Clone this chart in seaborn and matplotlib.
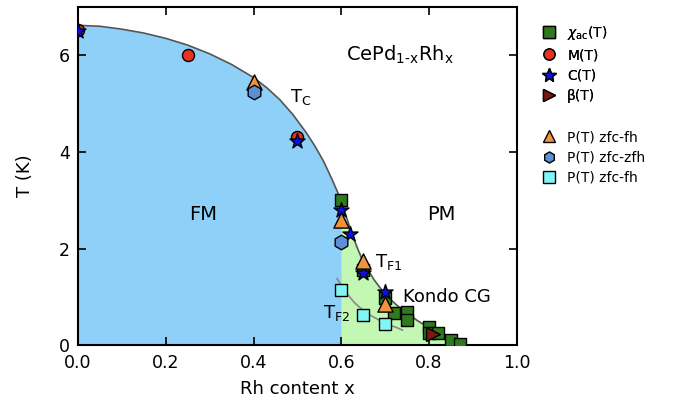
import numpy as np
import pandas as pd
import matplotlib
matplotlib.use("Agg")
import matplotlib.pyplot as plt
import seaborn as sns
from matplotlib.lines import Line2D

# ---- data ----
chi_x = [0.60, 0.65, 0.70, 0.72, 0.75, 0.75, 0.80, 0.80, 0.82, 0.85, 0.87]
chi_T = [3.00, 1.55, 0.97, 0.67, 0.69, 0.52, 0.38, 0.25, 0.26, 0.10, 0.03]
m_x = [0.0, 0.25, 0.50]
m_T = [6.52, 6.00, 4.31]
c_x = [0.0, 0.50, 0.60, 0.62, 0.65, 0.70]
c_T = [6.50, 4.22, 2.80, 2.31, 1.49, 1.10]
beta_x = [0.81]
beta_T = [0.23]
pfh_x = [0.40, 0.60, 0.65, 0.70]
pfh_T = [5.45, 2.59, 1.74, 0.86]
pzfh_x = [0.40, 0.60]
pzfh_T = [5.24, 2.14]
pfh2_x = [0.60, 0.65, 0.70]
pfh2_T = [1.14, 0.62, 0.43]

# phase boundary (Tc / TF1) and TF2 guide lines
tc_x = [0.00, 0.05, 0.10, 0.15, 0.20, 0.25, 0.30, 0.35, 0.40, 0.43, 0.46, 0.49,
        0.52, 0.54, 0.56, 0.58, 0.59, 0.60, 0.61, 0.62, 0.635, 0.65, 0.675,
        0.70, 0.725, 0.75, 0.775, 0.80, 0.825, 0.85, 0.865, 0.88]
tc_T = [6.62, 6.60, 6.54, 6.46, 6.35, 6.21, 6.03, 5.81, 5.54, 5.33, 5.08, 4.77,
        4.40, 4.12, 3.80, 3.41, 3.20, 2.98, 2.70, 2.42, 2.05, 1.72, 1.35,
        1.05, 0.84, 0.66, 0.50, 0.36, 0.23, 0.12, 0.06, 0.00]
tf2_x = [0.59, 0.61, 0.63, 0.65, 0.67, 0.69, 0.71, 0.73, 0.74]
tf2_T = [1.38, 1.10, 0.88, 0.72, 0.60, 0.50, 0.42, 0.35, 0.31]

sns.set_style("ticks")
plt.rcParams["font.family"] = ["DejaVu Sans"]
plt.rcParams["mathtext.fontset"] = "dejavusans"
for k in ["text.color", "axes.labelcolor", "xtick.color", "ytick.color",
          "axes.edgecolor"]:
    plt.rcParams[k] = "black"

fig = plt.figure(figsize=(6.75, 4.09), dpi=100)
ax = fig.add_axes([0.1156, 0.156, 0.650, 0.827])

tcx = np.array(tc_x)
tcT = np.array(tc_T)
fm = tcx <= 0.6
ax.fill_between(tcx[fm], 0, tcT[fm], color="#8ed0f8", lw=0, zorder=0)
cg = tcx >= 0.6
ax.fill_between(tcx[cg], 0, tcT[cg], color="#c2f7b4", lw=0, zorder=0)

sns.lineplot(x=tc_x, y=tc_T, ax=ax, color="#555555", lw=1.2, zorder=1, sort=False)
sns.lineplot(x=tf2_x, y=tf2_T, ax=ax, color="#8a8a8a", lw=1.2, zorder=1, sort=False)

ms = 75
ec = "black"
series = [
    (chi_x, chi_T, "s", "#2f7a1e", ms, r"$\chi_{\mathregular{ac}}$(T)"),
    (m_x, m_T, "o", "#e8321e", ms, "M(T)"),
    (c_x, c_T, "*", "#0a10f0", 130, "C(T)"),
    (beta_x, beta_T, ">", "#7a1a0e", 100, "β(T)"),
    (pfh_x, pfh_T, "^", "#f0933c", 120, "P(T) zfc-fh"),
    (pzfh_x, pzfh_T, "h", "#5b8fd8", 110, "P(T) zfc-zfh"),
    (pfh2_x, pfh2_T, "s", "#80f6f6", ms, "P(T) zfc-fh"),
]
handles = []
for x, y, mk, col, s, lab in series:
    sns.scatterplot(x=x, y=y, ax=ax, marker=mk, color=col, s=s,
                    edgecolor=ec, linewidth=1.0, zorder=3)
    handles.append(Line2D([], [], ls="none", marker=mk, markerfacecolor=col,
                          markeredgecolor=ec, markersize=8 if mk != "*" else 10,
                          label=lab))

ax.set_xlim(0, 1.0)
ax.set_ylim(0, 7.0)
ax.set_xticks([0.0, 0.2, 0.4, 0.6, 0.8, 1.0])
ax.set_yticks([0, 2, 4, 6])
ax.tick_params(direction="in", top=True, right=True, length=6, width=1.2,
               labelsize=12.5, pad=6)
for sp in ax.spines.values():
    sp.set_linewidth(1.5)
ax.set_xlabel("Rh content x", fontsize=13, labelpad=6)
ax.set_ylabel("T (K)", fontsize=13, labelpad=18)

ax.text(0.61, 6.0, r"CePd$_{\mathregular{1\text{-}x}}$Rh$_{\mathregular{x}}$",
        fontsize=14, va="center", ha="left")
ax.text(0.483, 5.13, r"T$_{\mathregular{C}}$", fontsize=13, va="center")
ax.text(0.285, 2.7, "FM", fontsize=14, ha="center", va="center")
ax.text(0.829, 2.7, "PM", fontsize=14, ha="center", va="center")
ax.text(0.677, 1.72, r"T$_{\mathregular{F1}}$", fontsize=13, va="center")
ax.text(0.74, 0.99, "Kondo CG", fontsize=13, va="center")
ax.text(0.558, 0.66, r"T$_{\mathregular{F2}}$", fontsize=13, va="center")

leg1 = fig.legend(handles=handles[:4], loc="upper left",
                  bbox_to_anchor=(0.795, 0.955), frameon=False, fontsize=10,
                  handlelength=1.0, handletextpad=0.8, labelspacing=0.45,
                  borderaxespad=0)
leg2 = fig.legend(handles=handles[4:], loc="upper left",
                  bbox_to_anchor=(0.795, 0.695), frameon=False, fontsize=10,
                  handlelength=1.0, handletextpad=0.8, labelspacing=0.45,
                  borderaxespad=0)
fig.add_artist(leg1)

fig.savefig("out.png", dpi=100)
